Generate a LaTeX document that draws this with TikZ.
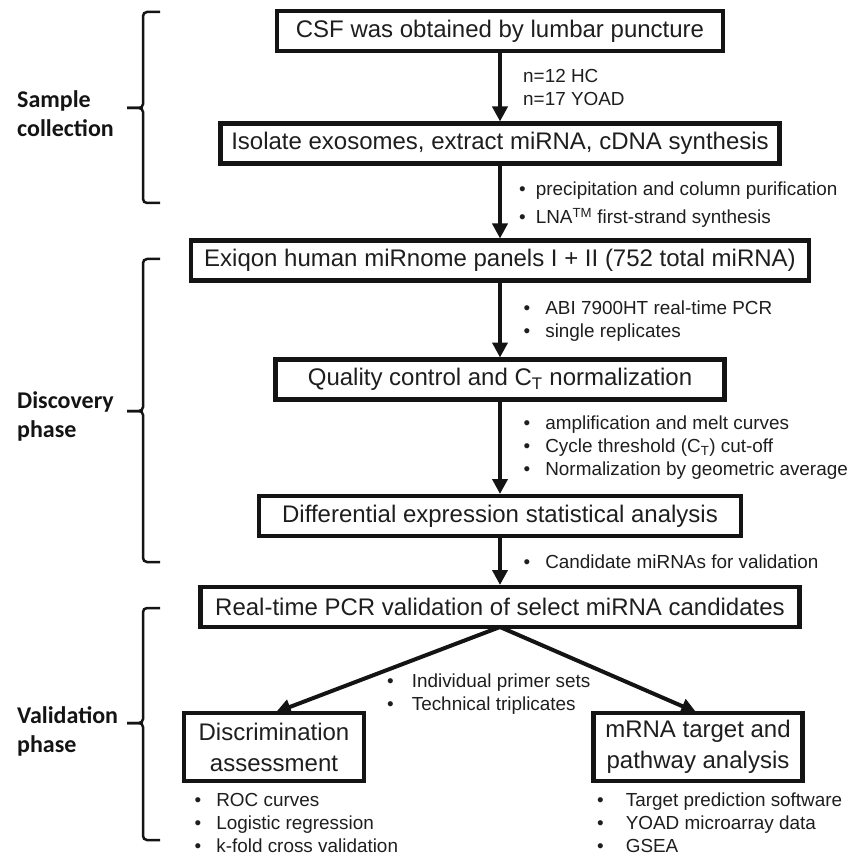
\documentclass[tikz,border=0pt]{standalone}
\usepackage{fontspec}
\setmainfont{Liberation Sans}
\newfontfamily\phasefont{Carlito}
\usepackage{tikz}
\usetikzlibrary{arrows.meta, positioning, calc}
\usepackage{xcolor}
\definecolor{flowblack}{RGB}{20, 20, 20}
\definecolor{flowtext}{RGB}{30, 30, 30}
\newcommand{\tb}[1][15pt]{\textbullet\hspace{#1}}

\begin{document}
\begin{tikzpicture}[
  x=1pt, y=1pt,
  box/.style={rectangle, draw=flowblack, line width=4.5pt, inner sep=0pt, outer sep=0pt, minimum height=40pt, align=center, text=flowtext, font=\fontsize{24}{31}\selectfont},
  arr/.style={-{Triangle[length=15pt, width=15pt]}, line width=4pt, color=flowblack, shorten >=2pt},
  lbl/.style={align=left, inner sep=0pt, text=flowtext, font=\fontsize{18.9}{23}\selectfont},
  phase/.style={align=left, inner sep=0pt, text=flowblack, font=\phasefont\bfseries\fontsize{24}{29}\selectfont},
  brc/.style={line width=2.5pt, rounded corners=4pt, color=flowblack}
]
\useasboundingbox (0,0) rectangle (857,-858);

\node[box, minimum width=446pt] (csf) at (500,-31) {CSF was obtained by lumbar puncture};
\node[box, minimum width=559pt, below=72.5pt of csf] (iso) {Isolate exosomes, extract miRNA, cDNA synthesis};
\node[box, minimum width=618pt, below=77pt of iso] (exiqon) {Exiqon human miRnome panels I + II (752 total miRNA)};
\node[box, minimum width=449pt, below=79pt of exiqon] (qc) {Quality control and C\textsubscript{T} normalization};
\node[box, minimum width=482pt, below=96.5pt of qc] (diff) {Differential expression statistical analysis};
\node[box, minimum width=599pt, below=51pt of diff] (valid) {Real-time PCR validation of select miRNA candidates};

\node[box, minimum width=180pt, minimum height=68pt, below=86pt of valid.south, xshift=-226pt] (disc) {Discrimination\\assessment};
\node[box, minimum width=209pt, minimum height=68pt, below=86pt of valid.south, xshift=198pt] (mrna) {mRNA target and\\pathway analysis};

\draw[arr] (csf) -- (iso);
\draw[arr] (iso) -- (exiqon);
\draw[arr] (exiqon) -- (qc);
\draw[arr] (qc) -- (diff);
\draw[arr] (diff) -- (valid);
\draw[arr] (valid.south) -- (disc.north);
\draw[arr] (valid.south) -- (mrna.north);

\node[lbl, anchor=west] (cohort) at ($(csf.south)!0.5!(iso.north)+(23pt,0)$) {n=12 HC\\n=17 YOAD};
\node[lbl, anchor=west] (prep) at ($(iso.south)!0.5!(exiqon.north)+(19pt,-3pt)$) {\tb[10pt]precipitation and column purification\\[5pt]\tb[10pt]LNA\textsuperscript{TM} first-strand synthesis};
\node[lbl, anchor=west] (pcr) at ($(exiqon.south)!0.5!(qc.north)+(23.5pt,-1pt)$) {\tb ABI 7900HT real-time PCR\\\tb single replicates};
\node[lbl, anchor=west] (curves) at ($(qc.south)!0.5!(diff.north)+(23.5pt,0)$) {\tb amplification and melt curves\\\tb Cycle threshold (C\textsubscript{T}) cut-off\\\tb Normalization by geometric average};
\node[lbl, anchor=west] (cand) at ($(diff.south)!0.5!(valid.north)+(23.5pt,0)$) {\tb Candidate miRNAs for validation};
\node[lbl, anchor=west] (primer) at ($(valid.south)+(-113pt,-67pt)$) {\tb[18pt]Individual primer sets\\\tb[18pt]Technical triplicates};
\node[lbl, below right=12.5pt and 10.5pt of disc.south west] (stats) {\tb ROC curves\\\tb Logistic regression\\\tb k-fold cross validation};
\node[lbl, below right=12pt and 3.5pt of mrna.south west] (target) {\tb[22pt]Target prediction software\\\tb[22pt]YOAD microarray data\\\tb[22pt]GSEA};

% phase braces
\node[phase, anchor=west] (ph1) at (17,-114) {Sample\\collection};
\node[phase, anchor=west] (ph2) at (17,-416) {Discovery\\phase};
\node[phase, anchor=west] (ph3) at (17,-731) {Validation\\phase};

\draw[brc] (160,-12) -- (143,-12) -- (143,-108) -- (127,-108);
\draw[brc] (160,-203) -- (143,-203) -- (143,-108) -- (127,-108);
\draw[brc] (160,-259) -- (143,-259) -- (143,-411) -- (127,-411);
\draw[brc] (160,-562) -- (143,-562) -- (143,-411) -- (127,-411);
\draw[brc] (160,-608) -- (143,-608) -- (143,-723) -- (127,-723);
\draw[brc] (160,-840) -- (143,-840) -- (143,-723) -- (127,-723);

\end{tikzpicture}
\end{document}
